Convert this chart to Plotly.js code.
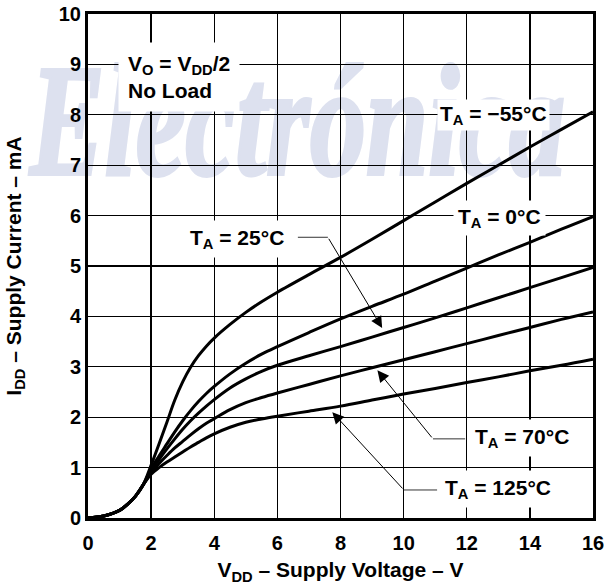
<!DOCTYPE html>
<html>
<head>
<meta charset="utf-8">
<script src="https://cdn.plot.ly/plotly-3.0.1.min.js"></script>
<style>
  body { margin: 0; background: #fff; }
  #wrap { position: relative; width: 604px; height: 585px; }
  #mark { position: absolute; left: 0; top: 0; z-index: 0; }
  #chart { position: absolute; left: 0; top: 0; width: 604px; height: 585px; z-index: 1; }
</style>
</head>
<body>
<div id="wrap">
  <svg id="mark" width="604" height="585">
    <text transform="translate(30,174) scale(0.70,1)" font-family="Liberation Serif, Times New Roman, serif"
      font-weight="bold" font-style="italic" font-size="160" fill="#dde1ef"
      stroke="#dde1ef" stroke-width="4">Electrónica</text>
  </svg>
  <div id="chart"></div>
</div>
<script>
// supply voltage (V)
var vdd = [0, 0.5, 1, 1.25, 1.5, 1.75, 2, 2.25, 2.5, 2.75, 3, 3.25, 3.5, 3.75, 4, 4.5, 5, 5.5, 6, 7, 8, 9, 10, 11, 12, 13, 14, 15, 16];

// supply current (mA) per ambient temperature
var idd_m55 = [0, 0.04, 0.15, 0.27, 0.43, 0.66, 1.05, 1.47, 1.9, 2.34, 2.7, 2.99, 3.22, 3.41, 3.57, 3.84, 4.08, 4.29, 4.48, 4.83, 5.17, 5.53, 5.9, 6.27, 6.64, 7.0, 7.36, 7.71, 8.06];
var idd_0 = [0, 0.04, 0.15, 0.27, 0.43, 0.66, 0.98, 1.23, 1.47, 1.71, 1.93, 2.13, 2.31, 2.47, 2.61, 2.86, 3.07, 3.25, 3.4, 3.68, 3.95, 4.2, 4.44, 4.7, 4.96, 5.22, 5.47, 5.73, 5.98];
var idd_25 = [0, 0.04, 0.15, 0.27, 0.43, 0.66, 0.94, 1.16, 1.37, 1.57, 1.76, 1.93, 2.08, 2.22, 2.35, 2.58, 2.76, 2.91, 3.03, 3.22, 3.4, 3.59, 3.78, 3.97, 4.17, 4.37, 4.57, 4.77, 4.97];
var idd_70 = [0, 0.04, 0.15, 0.27, 0.43, 0.66, 0.9, 1.08, 1.24, 1.39, 1.52, 1.65, 1.77, 1.88, 1.97, 2.15, 2.29, 2.39, 2.48, 2.65, 2.82, 2.98, 3.14, 3.3, 3.46, 3.62, 3.78, 3.94, 4.09];
var idd_125 = [0, 0.04, 0.15, 0.27, 0.43, 0.66, 0.87, 1.0, 1.11, 1.21, 1.31, 1.41, 1.5, 1.59, 1.67, 1.8, 1.9, 1.965, 2.02, 2.12, 2.22, 2.34, 2.46, 2.57, 2.69, 2.8, 2.92, 3.03, 3.15];

var series = [idd_m55, idd_0, idd_25, idd_70, idd_125];

var fnt = "Liberation Sans, Arial, sans-serif";

var data = series.map(function (ys) {
  return {
    x: vdd,
    y: ys,
    type: "scatter",
    mode: "lines",
    line: {color: "#000", width: 3, shape: "spline", smoothing: 1},
    hoverinfo: "skip",
    showlegend: false
  };
});

function label(txt, x, y, pad) {
  return {
    text: txt, x: x, y: y, xref: "x", yref: "y",
    showarrow: false, bgcolor: "#fff", borderpad: pad,
    font: {family: fnt, size: 21, color: "#000", weight: "bold"}
  };
}

function pointer(x0, y0, x1, y1) {
  return {
    text: "", x: x1, y: y1, ax: x0, ay: y0,
    xref: "x", yref: "y", axref: "x", ayref: "y",
    showarrow: true, arrowhead: 2, arrowsize: 2.3, arrowwidth: 1, arrowcolor: "#000"
  };
}

var annotations = [
  {
    text: "V<sub>O</sub> = V<sub>DD</sub>/2<br>No Load", x: 0.95, y: 8.76,
    xref: "x", yref: "y", xanchor: "left", align: "left",
    showarrow: false, bgcolor: "#fff", borderpad: 9,
    font: {family: fnt, size: 21, color: "#000", weight: "bold"}
  },
  label("T<sub>A</sub> = −55°C", 12.86, 8.0, 2),
  label("T<sub>A</sub> = 0°C", 13.05, 5.95, 4),
  label("T<sub>A</sub> = 25°C", 4.72, 5.54, 5),
  label("T<sub>A</sub> = 70°C", 13.74, 1.59, 5),
  label("T<sub>A</sub> = 125°C", 13.0, 0.575, 5),
  pointer(7.6, 5.57, 9.32, 3.77),
  pointer(10.93, 1.57, 9.17, 2.93),
  pointer(10.01, 0.556, 7.74, 2.1)
];

var shapes = [
  {type: "line", xref: "x", yref: "y", x0: 6.65, x1: 7.6, y0: 5.57, y1: 5.57, line: {color: "#333", width: 1}},
  {type: "line", xref: "x", yref: "y", x0: 10.93, x1: 11.95, y0: 1.57, y1: 1.57, line: {color: "#333", width: 1}},
  {type: "line", xref: "x", yref: "y", x0: 10.01, x1: 11.06, y0: 0.556, y1: 0.556, line: {color: "#333", width: 1}}
];

var layout = {
  width: 604,
  height: 585,
  margin: {l: 88, r: 11, t: 14, b: 67},
  paper_bgcolor: "rgba(0,0,0,0)",
  plot_bgcolor: "rgba(0,0,0,0)",
  showlegend: false,
  xaxis: {
    range: [0, 16], tick0: 0, dtick: 2,
    showgrid: true, gridcolor: "#000", gridwidth: 1.3, zeroline: false,
    showline: true, mirror: true, linecolor: "#000", linewidth: 3,
    ticks: "", ticklabelstandoff: 5, ticklabeloverflow: "allow",
    tickfont: {family: fnt, size: 20, color: "#000", weight: "bold"},
    title: {text: "V<sub>DD</sub> – Supply Voltage – V", standoff: 10,
      font: {family: fnt, size: 21, color: "#000", weight: "bold"}}
  },
  yaxis: {
    range: [0, 10], tick0: 0, dtick: 1,
    showgrid: true, gridcolor: "#000", gridwidth: 1.3, zeroline: false,
    showline: true, mirror: true, linecolor: "#000", linewidth: 3,
    ticks: "", ticklabeloverflow: "allow",
    tickfont: {family: fnt, size: 20, color: "#000", weight: "bold"},
    title: {text: "I<sub>DD</sub> – Supply Current – mA", standoff: 32,
      font: {family: fnt, size: 21, color: "#000", weight: "bold"}}
  },
  annotations: annotations,
  shapes: shapes
};

Plotly.newPlot("chart", data, layout, {displayModeBar: false, staticPlot: true});
</script>
</body>
</html>
